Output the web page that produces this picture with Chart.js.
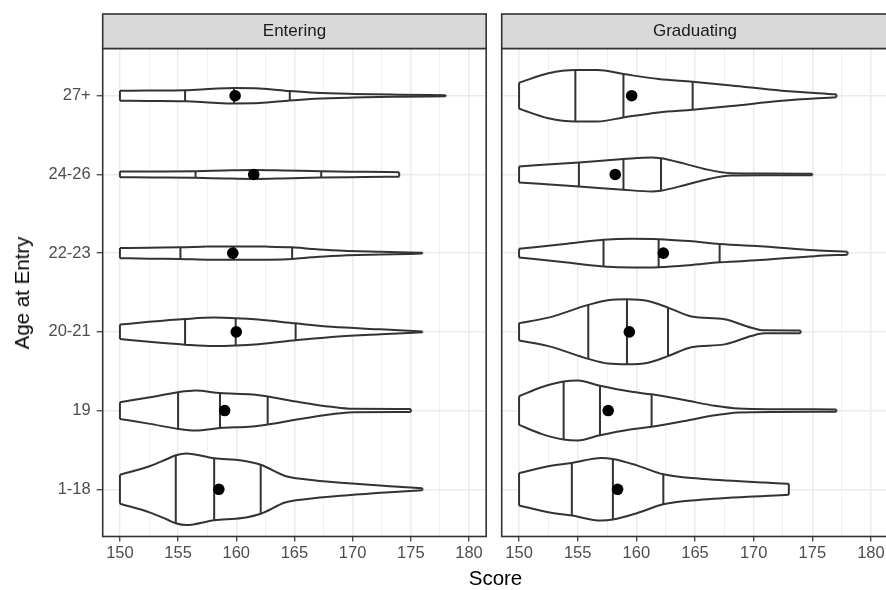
<!DOCTYPE html>
<html>
<head>
<meta charset="utf-8">
<script src="https://cdn.jsdelivr.net/npm/chart.js@4.4.1/dist/chart.umd.min.js"></script>
<style>
    html, body {
        margin: 0;
        padding: 0;
        background: #FFFFFF;
        width: 886px;
        height: 590px;
        overflow: hidden;
        position: relative;
        font-family: 'Liberation Sans', Arial, sans-serif;
    }
    canvas { position: absolute; top: 0; }
    #entering { left: 0; }
    #graduating { left: 490px; }
    .title { position: absolute; color: #000000; font-size: 20.5px; white-space: nowrap; }
    #xTitle { left: 495.5px; top: 578px; transform: translate(-50%, -50%); }
    #yTitle { left: 22px; top: 292.5px; transform: translate(-50%, -50%) rotate(-90deg); }
</style>
</head>
<body>
<canvas id="entering" width="492" height="590"></canvas>
<canvas id="graduating" width="420" height="590"></canvas>
<div id="xTitle" class="title">Score</div>
<div id="yTitle" class="title">Age at Entry</div>
<script>
const CATEGORIES = ['1-18', '19', '20-21', '22-23', '24-26', '27+'];
const PANELS = ['Entering', 'Graduating'];
const X_TICKS = [150, 155, 160, 165, 170, 175, 180];

// violin outlines: scores and half-widths (in category units), bottom group first
const enteringScores = [
    [150, 152.6, 154.0, 154.8, 155.7, 158.1, 160.5, 162.1, 164.2, 165.9, 169.6, 173.9, 176],
    [150, 152.6, 155.0, 156.5, 158.6, 161.4, 162.7, 165.3, 168.2, 170, 175],
    [150, 152.5, 155.6, 158.1, 159.95, 161.9, 165.1, 168.2, 172.4, 176],
    [150, 152.5, 155.2, 157.5, 159.8, 162.5, 164.8, 166.5, 168.2, 172.4, 176],
    [150, 153, 156.5, 159, 161.5, 164, 167.3, 171, 174],
    [150, 152.5, 155.6, 158, 159.8, 162, 164.6, 166.8, 170, 174, 178]
];
const enteringWidths = [
    [0.184, 0.296, 0.381, 0.432, 0.455, 0.394, 0.366, 0.311, 0.169, 0.127, 0.076, 0.032, 0.013],
    [0.106, 0.169, 0.233, 0.254, 0.222, 0.203, 0.178, 0.111, 0.047, 0.022, 0.019],
    [0.092, 0.127, 0.163, 0.181, 0.174, 0.156, 0.108, 0.064, 0.032, 0.006],
    [0.064, 0.070, 0.074, 0.083, 0.085, 0.083, 0.074, 0.053, 0.036, 0.017, 0.006],
    [0.036, 0.038, 0.042, 0.051, 0.057, 0.051, 0.039, 0.033, 0.028],
    [0.064, 0.066, 0.070, 0.089, 0.098, 0.093, 0.060, 0.038, 0.023, 0.013, 0.006]
];
const enteringQuartiles = [
    [154.8, 158.1, 162.1],
    [155.0, 158.6, 162.7],
    [155.6, 159.95, 165.1],
    [155.2, 159.8, 164.8],
    [156.5, 161.5, 167.3],
    [155.6, 159.8, 164.6]
];
const enteringMeans = [158.5, 159.0, 160.0, 159.7, 161.5, 159.9];

const graduatingScores = [
    [150, 152.5, 154.5, 157.0, 158.0, 160.1, 162.3, 165.3, 170.9, 173],
    [150, 151.9, 153.8, 155.0, 156.9, 159.6, 161.3, 164.1, 166.7, 168.7, 172, 177.05],
    [150, 152.5, 155.9, 157.6, 159.2, 161.0, 162.7, 164.7, 167.5, 169.8, 170.9, 174],
    [150, 153.9, 157.2, 159.6, 161.9, 164.5, 167.1, 170.9, 175.2, 178],
    [150, 155.1, 158.9, 161.3, 162.1, 164.1, 165.8, 168.1, 171, 175],
    [150, 152.5, 154.8, 156.7, 158.9, 161.9, 164.8, 168.1, 172.4, 177.05]
];
const graduatingWidths = [
    [0.206, 0.292, 0.334, 0.398, 0.385, 0.301, 0.191, 0.136, 0.085, 0.070],
    [0.182, 0.296, 0.369, 0.381, 0.314, 0.238, 0.206, 0.133, 0.060, 0.025, 0.017, 0.015],
    [0.111, 0.181, 0.343, 0.403, 0.413, 0.392, 0.308, 0.195, 0.159, 0.053, 0.019, 0.017],
    [0.055, 0.117, 0.169, 0.182, 0.178, 0.153, 0.117, 0.085, 0.038, 0.019],
    [0.102, 0.153, 0.195, 0.216, 0.206, 0.137, 0.070, 0.015, 0.011, 0.010],
    [0.165, 0.286, 0.328, 0.327, 0.276, 0.212, 0.178, 0.131, 0.064, 0.019]
];
const graduatingQuartiles = [
    [154.5, 158.0, 162.3],
    [153.8, 156.9, 161.3],
    [155.9, 159.2, 162.7],
    [157.2, 161.9, 167.1],
    [155.1, 158.9, 162.1],
    [154.8, 158.9, 164.8]
];
const graduatingMeans = [158.4, 157.6, 159.4, 162.3, 158.2, 159.6];

const FONT = "'Liberation Sans', Arial, sans-serif";
const INK = '#333333';
const GRID = '#EBEBEB';

const isMajor = ctx => ctx.tick && X_TICKS.includes(ctx.tick.value);

function widthAt(xs, ws, x) {
    for (let k = 1; k < xs.length; k++) {
        if (x <= xs[k]) {
            const t = (x - xs[k - 1]) / (xs[k] - xs[k - 1]);
            return ws[k - 1] + t * (ws[k] - ws[k - 1]);
        }
    }
    return ws[ws.length - 1];
}

const LINE = {
    showLine: true,
    borderColor: INK,
    borderWidth: 2,
    pointRadius: 0,
    pointHoverRadius: 0
};

function violinDatasets(scores, widths, quartiles, means) {
    const sets = [];

    scores.forEach((xs, i) => {
        const c = i + 1;
        const ws = widths[i];
        const last = xs.length - 1;

        sets.push({
            ...LINE,
            data: xs.map((x, k) => ({ x, y: c + ws[k] })),
            cubicInterpolationMode: 'monotone',
            fill: '+1',
            backgroundColor: '#FFFFFF',
            order: 2
        });
        sets.push({
            ...LINE,
            data: xs.map((x, k) => ({ x, y: c - ws[k] })),
            cubicInterpolationMode: 'monotone',
            fill: false,
            order: 2
        });

        // end caps and quartile lines
        const segs = [[xs[0], ws[0]], [xs[last], ws[last]]];
        quartiles[i].forEach(q => segs.push([q, widthAt(xs, ws, q)]));
        segs.forEach(([x, h]) => {
            sets.push({
                ...LINE,
                data: [{ x, y: c - h }, { x, y: c + h }],
                fill: false,
                order: 1
            });
        });
    });

    sets.push({
        data: means.map((m, i) => ({ x: m, y: i + 1 })),
        showLine: false,
        pointRadius: 5.8,
        pointHoverRadius: 5.8,
        pointBackgroundColor: '#000000',
        pointBorderWidth: 0,
        order: 0
    });

    return sets;
}

const panelFrame = {
    id: 'panelFrame',
    afterDatasetsDraw(chart, args, opts) {
        const { ctx, chartArea: a } = chart;
        const stripH = 34.5;

        ctx.save();
        ctx.strokeStyle = INK;
        ctx.lineWidth = 1.6;
        ctx.strokeRect(a.left, a.top, a.right - a.left, a.bottom - a.top);

        ctx.fillStyle = '#D9D9D9';
        ctx.fillRect(a.left, a.top - stripH, a.right - a.left, stripH);
        ctx.strokeRect(a.left, a.top - stripH, a.right - a.left, stripH);

        ctx.fillStyle = '#1A1A1A';
        ctx.font = '17px ' + FONT;
        ctx.textAlign = 'center';
        ctx.textBaseline = 'middle';
        ctx.fillText(opts.label, (a.left + a.right) / 2, a.top - stripH / 2 + 0.5);
        ctx.restore();
    }
};

function xScale() {
    return {
        type: 'linear',
        min: 148.52,
        max: 181.48,
        border: { display: false },
        grid: {
            color: GRID,
            lineWidth: ctx => isMajor(ctx) ? 1.5 : 0.75,
            tickLength: 5,
            tickWidth: 1.2,
            tickColor: ctx => isMajor(ctx) ? INK : 'rgba(0,0,0,0)'
        },
        ticks: {
            stepSize: 2.5,
            includeBounds: false,
            autoSkip: false,
            maxRotation: 0,
            padding: 2,
            color: '#4D4D4D',
            font: { size: 16.5, family: FONT },
            callback: v => X_TICKS.includes(v) ? String(v) : ''
        },
        afterFit: s => { s.height = 53.5; }
    };
}

function yScale(showLabels, width) {
    return {
        type: 'linear',
        min: 0.4,
        max: 6.6,
        border: { display: false },
        grid: {
            color: GRID,
            lineWidth: 1.5,
            drawTicks: showLabels,
            tickLength: 6,
            tickWidth: 1.2,
            tickColor: INK
        },
        ticks: {
            display: showLabels,
            stepSize: 1,
            includeBounds: false,
            autoSkip: false,
            padding: 6,
            color: '#4D4D4D',
            font: { size: 16.5, family: FONT },
            callback: v => CATEGORIES[v - 1] || ''
        },
        afterFit: s => { s.width = width; }
    };
}

function makeChart(id, label, datasets, showLabels, yWidth, padRight) {
    return new Chart(document.getElementById(id).getContext('2d'), {
        type: 'scatter',
        data: { datasets },
        plugins: [panelFrame],
        options: {
            responsive: false,
            animation: false,
            events: [],
            layout: { padding: { left: 0, right: padRight, top: 48.5, bottom: 0 } },
            plugins: {
                legend: { display: false },
                tooltip: { enabled: false },
                filler: { drawTime: 'beforeDatasetsDraw' },
                panelFrame: { label }
            },
            scales: {
                x: xScale(),
                y: yScale(showLabels, yWidth)
            }
        }
    });
}

makeChart('entering', PANELS[0],
    violinDatasets(enteringScores, enteringWidths, enteringQuartiles, enteringMeans),
    true, 102.7, 2.5);
makeChart('graduating', PANELS[1],
    violinDatasets(graduatingScores, graduatingWidths, graduatingQuartiles, graduatingMeans),
    false, 11.7, 21.7);
</script>
</body>
</html>
